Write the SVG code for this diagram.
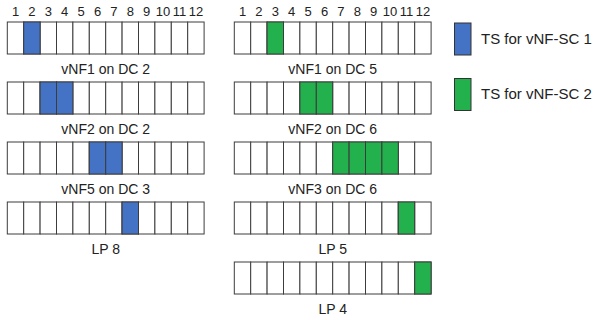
<svg xmlns="http://www.w3.org/2000/svg" width="593" height="320" viewBox="0 0 593 320">
  <defs>
    <style>
      .cell { fill: #ffffff; stroke: #3c3c3c; stroke-width: 1; }
      .sc1 { fill: #4472c4; }
      .sc2 { fill: #22b14c; }
      .lbl { font-family: "Liberation Sans", Arial, sans-serif; font-size: 14px; fill: #222222; text-anchor: middle; }
      .num { font-family: "Liberation Sans", Arial, sans-serif; font-size: 13px; fill: #222222; text-anchor: middle; }
      .leg { font-family: "Liberation Sans", Arial, sans-serif; font-size: 15px; fill: #222222; }
      .legbox { stroke: #333333; stroke-width: 1; }
    </style>
    <!-- 12-slot frame, cell width 16.4 -->
    <g id="slots">
      <rect class="cell" x="0" y="0" width="16.4" height="32"/>
      <rect class="cell" x="16.4" y="0" width="16.4" height="32"/>
      <rect class="cell" x="32.8" y="0" width="16.4" height="32"/>
      <rect class="cell" x="49.2" y="0" width="16.4" height="32"/>
      <rect class="cell" x="65.6" y="0" width="16.4" height="32"/>
      <rect class="cell" x="82" y="0" width="16.4" height="32"/>
      <rect class="cell" x="98.4" y="0" width="16.4" height="32"/>
      <rect class="cell" x="114.8" y="0" width="16.4" height="32"/>
      <rect class="cell" x="131.2" y="0" width="16.4" height="32"/>
      <rect class="cell" x="147.6" y="0" width="16.4" height="32"/>
      <rect class="cell" x="164" y="0" width="16.4" height="32"/>
      <rect class="cell" x="180.4" y="0" width="16.4" height="32"/>
    </g>
  </defs>

  <!-- slot numbering -->
  <g id="numbers-left" class="num">
    <text x="15.5" y="15.5">1</text><text x="31.9" y="15.5">2</text><text x="48.3" y="15.5">3</text>
    <text x="64.7" y="15.5">4</text><text x="81.1" y="15.5">5</text><text x="97.5" y="15.5">6</text>
    <text x="113.9" y="15.5">7</text><text x="130.3" y="15.5">8</text><text x="146.7" y="15.5">9</text>
    <text x="163.1" y="15.5">10</text><text x="179.5" y="15.5">11</text><text x="195.9" y="15.5">12</text>
  </g>
  <g id="numbers-right" class="num">
    <text x="242.5" y="15.5">1</text><text x="258.9" y="15.5">2</text><text x="275.3" y="15.5">3</text>
    <text x="291.7" y="15.5">4</text><text x="308.1" y="15.5">5</text><text x="324.5" y="15.5">6</text>
    <text x="340.9" y="15.5">7</text><text x="357.3" y="15.5">8</text><text x="373.7" y="15.5">9</text>
    <text x="390.1" y="15.5">10</text><text x="406.5" y="15.5">11</text><text x="422.9" y="15.5">12</text>
  </g>

  <!-- left column -->
  <g id="vnf1-dc2" transform="translate(7.3,22)">
    <use href="#slots"/>
    <rect class="cell sc1" x="16.4" y="0" width="16.4" height="32"/>
    <text class="lbl" x="98.4" y="52">vNF1 on DC 2</text>
  </g>
  <g id="vnf2-dc2" transform="translate(7.3,82)">
    <use href="#slots"/>
    <rect class="cell sc1" x="32.8" y="0" width="16.4" height="32"/>
    <rect class="cell sc1" x="49.2" y="0" width="16.4" height="32"/>
    <text class="lbl" x="98.4" y="52">vNF2 on DC 2</text>
  </g>
  <g id="vnf5-dc3" transform="translate(7.3,142)">
    <use href="#slots"/>
    <rect class="cell sc1" x="82" y="0" width="16.4" height="32"/>
    <rect class="cell sc1" x="98.4" y="0" width="16.4" height="32"/>
    <text class="lbl" x="98.4" y="52">vNF5 on DC 3</text>
  </g>
  <g id="lp8" transform="translate(7.3,202)">
    <use href="#slots"/>
    <rect class="cell sc1" x="114.8" y="0" width="16.4" height="32"/>
    <text class="lbl" x="98.4" y="52">LP 8</text>
  </g>

  <!-- right column -->
  <g id="vnf1-dc5" transform="translate(234.3,22)">
    <use href="#slots"/>
    <rect class="cell sc2" x="32.8" y="0" width="16.4" height="32"/>
    <text class="lbl" x="98.4" y="52">vNF1 on DC 5</text>
  </g>
  <g id="vnf2-dc6" transform="translate(234.3,82)">
    <use href="#slots"/>
    <rect class="cell sc2" x="65.6" y="0" width="16.4" height="32"/>
    <rect class="cell sc2" x="82" y="0" width="16.4" height="32"/>
    <text class="lbl" x="98.4" y="52">vNF2 on DC 6</text>
  </g>
  <g id="vnf3-dc6" transform="translate(234.3,142)">
    <use href="#slots"/>
    <rect class="cell sc2" x="98.4" y="0" width="16.4" height="32"/>
    <rect class="cell sc2" x="114.8" y="0" width="16.4" height="32"/>
    <rect class="cell sc2" x="131.2" y="0" width="16.4" height="32"/>
    <rect class="cell sc2" x="147.6" y="0" width="16.4" height="32"/>
    <text class="lbl" x="98.4" y="52">vNF3 on DC 6</text>
  </g>
  <g id="lp5" transform="translate(234.3,202)">
    <use href="#slots"/>
    <rect class="cell sc2" x="164" y="0" width="16.4" height="32"/>
    <text class="lbl" x="98.4" y="52">LP 5</text>
  </g>
  <g id="lp4" transform="translate(234.3,262)">
    <use href="#slots"/>
    <rect class="cell sc2" x="180.4" y="0" width="16.4" height="32"/>
    <text class="lbl" x="98.4" y="52">LP 4</text>
  </g>

  <!-- legend -->
  <g id="legend-sc1">
    <rect class="legbox sc1" x="454.5" y="23" width="16.5" height="32"/>
    <text class="leg" x="481" y="44">TS for vNF-SC 1</text>
  </g>
  <g id="legend-sc2">
    <rect class="legbox sc2" x="454.5" y="78.5" width="16.5" height="32"/>
    <text class="leg" x="481" y="99">TS for vNF-SC 2</text>
  </g>

  <g id="connectors"/>
</svg>
